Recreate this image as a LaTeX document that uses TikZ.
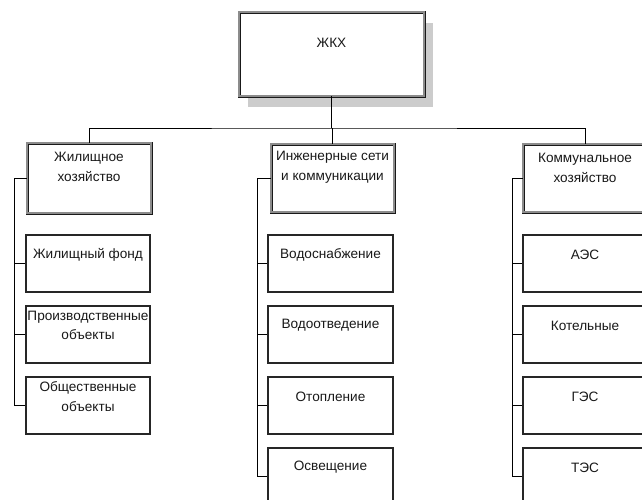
\documentclass[tikz,border=0pt]{standalone}
\usepackage{fontspec}
\setmainfont{Liberation Sans}
\usepackage{tikz}
\usetikzlibrary{shadows}

% text block centred in the upper part of a box
\newcommand{\boxtext}[4]{\parbox[c][#2][t]{#1}{\centering\parbox[c][#3][c]{#1}{\centering #4}}}

\begin{document}
\begin{tikzpicture}[x=1pt, y=-1pt,
    font=\fontsize{13.6}{19.5}\selectfont, text=black!90,
    framed/.style={draw=black!90, double=black!45, double distance=1.2pt, line width=0.9pt, fill=white, inner sep=0pt},
    cell/.style={draw=black!85, line width=1.1pt, fill=white, inner sep=0pt},
    link/.style={line width=0.9pt}]
    \useasboundingbox (0,0) rectangle (642,499);
    \clip (0,0) rectangle (642,499);

    \node[framed, drop shadow={shadow xshift=9pt, shadow yshift=-11pt, fill=black!20, draw=none, opacity=1}]
        (gkh) at (331.5, 54) {\boxtext{185pt}{84pt}{62pt}{ЖКХ}};

    \node[framed] (housing) at (89, 178) {\boxtext{124pt}{70pt}{48pt}{Жилищное\\хозяйство}};
    \node[framed] (engineering) at (332.5, 178) {\boxtext{123pt}{68pt}{46pt}{Инженерные сети\\и коммуникации}};
    \node[framed] (utility) at (585, 178) {\boxtext{124pt}{68pt}{48pt}{Коммунальное\\хозяйство}};

    \node[cell] (fund) at (88, 263.5) {\boxtext{124pt}{57pt}{39pt}{Жилищный фонд}};
    \node[cell] (industrial) at (88, 334.5) {\boxtext{124pt}{57pt}{39pt}{Производственные\\объекты}};
    \node[cell] (public) at (88, 405.5) {\boxtext{124pt}{57pt}{39pt}{Общественные\\объекты}};

    \node[cell] (water) at (330.5, 263.5) {\boxtext{125pt}{57pt}{39pt}{Водоснабжение}};
    \node[cell] (sewage) at (330.5, 334.5) {\boxtext{125pt}{57pt}{39pt}{Водоотведение}};
    \node[cell] (heating) at (330.5, 405.5) {\boxtext{125pt}{57pt}{39pt}{Отопление}};
    \node[cell] (lighting) at (330.5, 476.5) {\boxtext{125pt}{57pt}{39pt}{Освещение}};

    \node[cell] (nuclear) at (585, 263.5) {\boxtext{124pt}{57pt}{39pt}{АЭС}};
    \node[cell] (boiler) at (585, 334.5) {\boxtext{124pt}{57pt}{39pt}{Котельные}};
    \node[cell] (hydro) at (585, 405.5) {\boxtext{124pt}{57pt}{39pt}{ГЭС}};
    \node[cell] (thermal) at (585, 476.5) {\boxtext{124pt}{57pt}{39pt}{ТЭС}};

    % main bus
    \coordinate (bus) at (331.5, 128);
    \draw[link] (gkh) -- (bus);
    \draw[link] (housing.north) |- (bus) -| (utility.north);
    \draw[link] (bus) -- (bus -| engineering.north) -- (engineering.north);

    % side buses
    \coordinate (hbus) at (14, 178);
    \coordinate (ebus) at (257, 178);
    \coordinate (ubus) at (512, 178);
    \draw[link] (housing.west) -- (hbus) |- (public.west);
    \draw[link] (engineering.west) -- (ebus) |- (lighting.west);
    \draw[link] (utility.west) -- (ubus) |- (thermal.west);
    \foreach \c in {fund, industrial}
        \draw[link] (hbus |- \c.west) -- (\c.west);
    \foreach \c in {water, sewage, heating}
        \draw[link] (ebus |- \c.west) -- (\c.west);
    \foreach \c in {nuclear, boiler, hydro}
        \draw[link] (ubus |- \c.west) -- (\c.west);
\end{tikzpicture}
\end{document}
